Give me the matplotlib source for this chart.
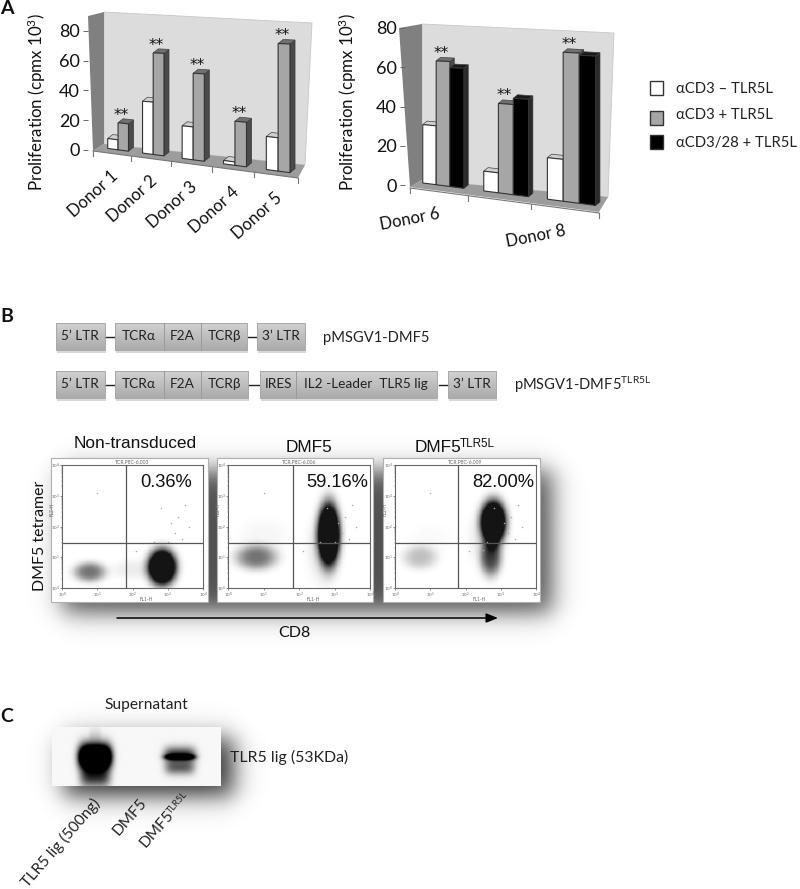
import numpy as np
import matplotlib
matplotlib.use("Agg")
import matplotlib.pyplot as plt
from matplotlib.transforms import Transform
from matplotlib.patches import Rectangle, Polygon
from matplotlib.ticker import LogLocator, NullFormatter

plt.rcParams['font.family'] = ['Lato', 'Noto Sans', 'DejaVu Sans']
plt.rcParams['mathtext.default'] = 'regular'

# ---------- data ----------
donors_a = ["Donor 1", "Donor 2", "Donor 3", "Donor 4", "Donor 5"]
a_minus = [6.5, 33, 20, 2, 19]
a_plus = [17.6, 64, 52.7, 26, 72.7]
a_stars = [True, True, True, True, True]

donors_b = ["Donor 6", "", "Donor 8"]
b_minus = [29.5, 9.6, 19.4]
b_plus = [62, 43, 69]
b_cd28 = [59, 46, 68]
b_stars = [True, True, True]

y_ticks = [0, 20, 40, 60, 80]
legend_labels = ["αCD3 – TLR5L", "αCD3 + TLR5L", "αCD3/28 + TLR5L"]
bar_colors = ["#ffffff", "#a6a6a6", "#000000"]
side_colors = ["#8a8a8a", "#4a4a4a", "#2a2a2a"]
top_colors = ["#cfcfcf", "#707070", "#1a1a1a"]

construct_1 = ["5’ LTR", "TCRα", "F2A", "TCRβ", "3’ LTR"]
construct_2 = ["5’ LTR", "TCRα", "F2A", "TCRβ", "IRES", "IL2 -Leader  TLR5 lig", "3’ LTR"]

flow_titles = ["Non-transduced", "DMF5", "DMF5"]
flow_percent = ["0.36%", "59.16%", "82.00%"]
flow_ids = ["TCR.P8C-6.003", "TCR.P8C-6.006", "TCR.P8C-6.009"]
# cell populations per panel: log10 x, log10 y, sd x, sd y, darkness
flow_pops = [
    [(0.79, 0.52, 0.45, 0.32, 0.62), (2.84, 0.68, 0.40, 0.58, 1.9), (2.0, 0.6, 0.55, 0.32, 0.10)],
    [(0.80, 1.00, 0.58, 0.40, 0.62), (2.84, 1.75, 0.31, 1.02, 1.9), (1.0, 1.7, 0.7, 0.55, 0.05),
     (2.7, 1.3, 0.45, 1.1, 0.16)],
    [(0.71, 1.00, 0.48, 0.38, 0.30), (2.79, 2.15, 0.36, 0.70, 1.9), (2.72, 1.00, 0.30, 0.62, 0.75),
     (2.6, 1.6, 0.5, 0.95, 0.12), (1.0, 1.6, 0.6, 0.5, 0.03)],
]
flow_gate_x = [1.82, 1.82, 1.79]
flow_gate_y = [1.45, 1.45, 1.45]
stray_x = [1.0, 2.8, 3.3, 3.6, 3.2, 2.6, 3.5, 3.0, 2.5, 2.1, 3.1, 3.4]
stray_y = [3.1, 2.6, 2.3, 2.0, 1.8, 1.5, 2.7, 1.5, 1.25, 1.2, 2.1, 1.6]

blot_lanes = ["TLR5 lig (500ng)", "DMF5", "DMF5"]
# blot bands: x px, y px, half width, half height, darkness
blot_bands = [(95, 757, 16, 12, 2.6), (95, 778, 15, 10, 0.7), (95, 735, 6, 8, 0.10),
              (180, 755, 16, 8, 0.8), (180, 757, 15, 2.5, 1.2), (180, 768, 15, 7, 0.55)]

W, H = 800, 889
fig = plt.figure(figsize=(W / 100, H / 100), dpi=100, facecolor='white')
canvas = fig.add_axes([0, 0, 1, 1])
canvas.set_autoscale_on(False)
canvas.set_xlim(0, W)
canvas.set_ylim(H, 0)
canvas.axis('off')


def axes_px(x0, y0, x1, y1, **kw):
    return fig.add_axes([x0 / W, 1 - y1 / H, (x1 - x0) / W, (y1 - y0) / H], **kw)


class Persp(Transform):
    """Slot position / value to canvas pixels, with a perspective floor."""
    input_dims = 2
    output_dims = 2
    is_separable = False
    has_inverse = False

    def __init__(self, x0, b, c, y_at, y_slope, x_ref, s0, s1):
        super().__init__()
        self.p = (x0, b, c, y_at, y_slope, x_ref, s0, s1)

    def transform_non_affine(self, values):
        x0, b, c, y_at, y_slope, x_ref, s0, s1 = self.p
        v = np.asarray(values, dtype=float)
        u, val = v[:, 0], v[:, 1]
        px = x0 + b * u + c * u * u
        py = y_at + y_slope * (px - x_ref) - val * (s0 + s1 * u)
        return np.column_stack([px, py])


def chart(persp, series, names, centers, width, depth, wall_l, wall_b, floor,
          tick_us, front, y_rect, ylabel_xy, xl_off, xl_rot, xl_fs, stars, star_s, star_dy):
    canvas.add_patch(Polygon(wall_b, fc="#dcdcdc", ec="#c8c8c8", lw=0.6, zorder=1))
    canvas.add_patch(Polygon(wall_l, fc="#808080", ec="none", zorder=1))
    canvas.add_patch(Polygon(floor, fc="#9c9c9c", ec="none", zorder=1.1))
    t = persp + canvas.transData
    n = len(series)
    dx, dy = depth
    for g, c in enumerate(centers):
        for k in range(n):
            left = c + (k - n / 2) * width
            val = series[k][g]
            (x0, yb0), (x1, yt1), (_, yb1), (_, yt0) = persp.transform(
                [[left, 0], [left + width, val], [left + width, 0], [left, val]])
            canvas.add_patch(Polygon([(x1, yt1), (x1 + dx, yt1 + dy), (x1 + dx, yb1 + dy), (x1, yb1)],
                                     fc=side_colors[k], ec="#333333", lw=0.5, zorder=2 + k * 0.1))
            canvas.add_patch(Polygon([(x0, yt0), (x1, yt1), (x1 + dx, yt1 + dy), (x0 + dx, yt0 + dy)],
                                     fc=top_colors[k], ec="#444444", lw=0.5, zorder=2 + k * 0.1))
            canvas.bar(left + width / 2, val, width, color=bar_colors[k], edgecolor="#333333",
                       linewidth=0.8, transform=t, zorder=2.05 + k * 0.1)
        if stars[g]:
            left = c + (1 - n / 2) * width
            sx, sy = persp.transform([[left + width / 2, series[1][g]]])[0]
            canvas.text(sx - 2, sy + star_dy, "**", fontsize=star_s, ha='center', va='center', zorder=6,
                        family='DejaVu Sans', color="#111111")
    # x axis
    canvas.plot([front[0][0], front[1][0]], [front[0][1], front[1][1]], color="#777777", lw=0.8, zorder=1.2)
    for u in tick_us:
        px = persp.transform([[u, 0]])[0][0]
        f = (px - front[0][0]) / (front[1][0] - front[0][0])
        py = front[0][1] + f * (front[1][1] - front[0][1])
        canvas.plot([px, px], [py, py + 5], color="#777777", lw=0.8, zorder=1.2)
    for g, nm in enumerate(names):
        if nm:
            px, py = persp.transform([[g + 0.5, 0]])[0]
            canvas.text(px + xl_off[0], py + xl_off[1], nm, rotation=xl_rot, rotation_mode='anchor',
                        ha='right', va='center', fontsize=xl_fs, color="#111111", zorder=6)
    # y axis
    ya = axes_px(*y_rect, facecolor='none')
    ya.set_ylim(0, 80)
    ya.set_xticks([])
    ya.set_yticks(y_ticks)
    ya.tick_params(axis='y', length=3.6, width=0.7, color="#666666", labelsize=13, pad=2.5, labelcolor="#111111")
    for s in ya.spines.values():
        s.set_visible(False)
    canvas.text(*ylabel_xy, "Proliferation (cpmx 10$^{3}$)", rotation=90, ha='center', va='center',
                fontsize=12.2, color="#111111", zorder=6)


# ---------- panel A left ----------
p1 = Persp(93, 37.5, 0.7, 149, 0.133, 112, 1.5, 0.056)
chart(p1, [a_minus, a_plus], donors_a, [0.66, 1.56, 2.55, 3.55, 4.55], 0.27, (5, -4),
      [(88, 16), (104, 12), (104, 144), (93, 151)],
      [(104, 12), (312, 23), (305, 165), (104, 144)],
      [(93, 151), (104, 144), (305, 165), (298, 178)],
      [0, 1, 2, 3, 4, 5], [(93, 151), (298, 178)],
      (88, 30.7, 96, 150), (37, 102), (4, 25), 42, 12, a_stars, 11, -8)

# ---------- panel A right ----------
p2 = Persp(410, 55.5, 2.5, 183, 0.13, 423, 1.96, 0.08)
chart(p2, [b_minus, b_plus, b_cd28], donors_b, [0.58, 1.61, 2.6], 0.235, (4.3, -3.5),
      [(399, 28), (422, 24), (422, 180), (410, 187)],
      [(422, 24), (614, 33), (608, 197), (422, 180)],
      [(410, 187), (422, 180), (608, 197), (599, 212)],
      [0, 1, 2, 3], [(410, 188), (599, 213)],
      (405, 28, 415, 185), (348, 102), (1, 29), 11, 12, b_stars, 11, -8)

# legend
for lab, col, yc, ys in zip(legend_labels, bar_colors, [89, 115, 143], [88, 117.5, 142]):
    canvas.add_patch(Rectangle((650, ys - 7), 12.5, 14, fc=col, ec="#333333", lw=1, zorder=3))
    canvas.text(676.5, yc, lab, fontsize=10.7, va='center', ha='left', color="#222222", zorder=3)

# panel letters
for s, x, y in [("A", 7, 8), ("B", 7, 316), ("C", 7, 717)]:
    canvas.text(x, y, s, fontsize=14, fontweight='bold', ha='center', va='center', color="#111111", zorder=7)


# ---------- panel B constructs ----------
def block(x0, y0, x1, y1):
    g = np.linspace(0, 1, 30).reshape(-1, 1)
    v = 0.82 - 0.15 * g
    canvas.add_patch(Rectangle((x0 + 1, y1), x1 - x0, 2.5, fc="#d8d8d8", ec="none", zorder=1.5))
    canvas.imshow(v, cmap='gray', vmin=0, vmax=1, extent=(x0, x1, y1, y0), aspect='auto', zorder=2)
    canvas.add_patch(Rectangle((x0, y0), x1 - x0, y1 - y0, fc='none', ec="#a8a8a8", lw=0.7, zorder=2.1))


def construct(y0, y1, boxes, dashes, labels):
    for b in boxes:
        block(b[0], y0, b[-1], y1)
        for d in b[1:-1]:
            canvas.plot([d, d], [y0, y1], color="#9a9a9a", lw=0.7, zorder=2.2)
    ym = (y0 + y1) / 2
    for a, b in dashes:
        canvas.plot([a, b], [ym, ym], color="#222222", lw=1, zorder=2)
    for (xc, s) in labels:
        canvas.text(xc, ym - 1, s, fontsize=9.8, ha='center', va='center', color="#222222", zorder=3)


construct(323, 350, [(56, 105), (115, 164, 201, 247), (257, 305)],
          [(105, 114), (248, 256)],
          list(zip([80, 139, 182, 224, 281], construct_1)))
canvas.text(323, 338, "pMSGV1-DMF5", fontsize=10.6, va='center', color="#222222")
construct(371, 398, [(56, 105), (115, 164, 201, 248), (260, 296, 437), (448, 496)],
          [(105, 114), (249, 259), (439, 448)],
          list(zip([80, 139, 182, 224, 278, 366, 472], construct_2)))
canvas.text(514, 385, "pMSGV1-DMF5$^{TLR5L}$", fontsize=10.6, va='center', color="#222222")


# ---------- shadows ----------
def shadow(x0, y0, x1, y1, blur, amp):
    xs = np.linspace(x0 - 4 * blur, x1 + 4 * blur, 300)
    ys = np.linspace(y0 - 4 * blur, y1 + 4 * blur, 200)
    X, Y = np.meshgrid(xs, ys)
    S = lambda d: 1 / (1 + np.exp(-d / (blur * 0.45)))
    A = amp * S(X - x0) * S(x1 - X) * S(Y - y0) * S(y1 - Y)
    rgba = np.zeros(A.shape + (4,))
    rgba[..., 3] = A
    canvas.imshow(rgba, extent=(xs[0], xs[-1], ys[-1], ys[0]), aspect='auto', zorder=0.5)


shadow(62, 470, 553, 613, 16, 0.68)
shadow(64, 738, 234, 796, 16, 0.8)

# ---------- flow panels ----------
outer = [(51, 208), (217, 373), (383, 540)]
inner = [(62, 203), (228, 370), (395, 536)]
gx = np.linspace(0, 4, 260)
gy = np.linspace(0, 4, 230)
GX, GY = np.meshgrid(gx, gy)
for i in range(3):
    canvas.add_patch(Rectangle((outer[i][0], 458), outer[i][1] - outer[i][0], 144,
                               fc="white", ec="#b0b0b0", lw=0.8, zorder=1))
    ax = axes_px(inner[i][0], 465, inner[i][1], 588)
    D = np.zeros_like(GX)
    for (mx, my, sx, sy, a) in flow_pops[i]:
        r = np.sqrt(((GX - mx) / sx) ** 2 + ((GY - my) / sy) ** 2)
        D += a * np.exp(-r ** 3)
    ax.pcolormesh(10 ** gx, 10 ** gy, np.clip(D, 0, 1) ** 1.1 * 0.92, cmap='gray_r', vmin=0, vmax=1,
                  shading='auto', rasterized=True)
    ax.scatter(10 ** np.array(stray_x), 10 ** np.array(stray_y), s=1.2, color="#aaaaaa", lw=0)
    ax.set_xscale('log')
    ax.set_yscale('log')
    ax.set_xlim(1, 1e4)
    ax.set_ylim(1, 1e4)
    ax.axvline(10 ** flow_gate_x[i], color="#555555", lw=0.9)
    ax.axhline(10 ** flow_gate_y[i], color="#555555", lw=0.9)
    for s in ax.spines.values():
        s.set_color("#666666")
        s.set_linewidth(0.8)
    for a_ in (ax.xaxis, ax.yaxis):
        a_.set_major_locator(LogLocator(base=10, numticks=6))
        a_.set_minor_locator(LogLocator(base=10, subs=np.arange(2, 10) * 1.0, numticks=6))
        a_.set_minor_formatter(NullFormatter())
    ax.tick_params(which='major', length=1.6, width=0.5, color="#666666", labelsize=3.2, pad=0.3, labelcolor="#666666")
    ax.tick_params(which='minor', length=1, width=0.3, color="#666666")
    ax.set_title(flow_ids[i], fontsize=3.6, pad=1, color="#666666")
    ax.set_xlabel("FL1-H", fontsize=3.4, color="#666666")
    ax.xaxis.set_label_coords(0.6, -0.07)
    ax.set_ylabel("FL2-H", fontsize=3.4, color="#666666")
    ax.yaxis.set_label_coords(-0.052, 0.64)
    ax.text([0.74, 0.77, 0.766][i], 0.86, flow_percent[i], transform=ax.transAxes, fontsize=13.2,
            family='Liberation Sans', ha='center', va='center', color="#111111")

for x, y, s in zip([135, 309, 438], [444, 447, 447], flow_titles):
    canvas.text(x, y, s, fontsize=12.4, family='Liberation Sans', ha='center',
                va='center', color="#111111", zorder=5)
canvas.text(460, 444, "TLR5L", fontsize=8.4, family='Liberation Sans', ha='left', va='center',
            color="#111111", zorder=5)
canvas.text(40, 536, "DMF5 tetramer", rotation=90, fontsize=11.4, ha='center', va='center',
            color="#111111", zorder=5)
canvas.annotate("", xy=(498, 618), xytext=(117, 618), zorder=5,
                arrowprops=dict(arrowstyle='-|>,head_width=0.28,head_length=0.7', color='black', lw=1.1,
                                shrinkA=0, shrinkB=0))
canvas.text(294, 633, "CD8", fontsize=11.5, ha='center', va='center', color="#111111", zorder=5)

# ---------- panel C ----------
bx = np.linspace(52, 221, 260)
by = np.linspace(727, 786, 120)
BX, BY = np.meshgrid(bx, by)
B = np.full_like(BX, 0.03)
for (mx, my, hw, hh, a) in blot_bands:
    B += a * np.exp(-(((BX - mx) / hw) ** 4) - (((BY - my) / hh) ** 2))
canvas.imshow(np.clip(B, 0, 1), cmap='gray_r', vmin=0, vmax=1, extent=(52, 221, 786, 727),
              aspect='auto', zorder=2)
canvas.text(146, 705, "Supernatant", fontsize=11.2, ha='center', va='center', color="#222222", zorder=5)
canvas.text(230, 757, "TLR5 lig (53KDa)", fontsize=11.4, ha='left', va='center', color="#222222", zorder=5)
for s, x, y, in zip(blot_lanes, [98, 144, 171], [801, 800, 812]):
    canvas.text(x, y, s, rotation=49, rotation_mode='anchor', ha='right', va='center', fontsize=11.2,
                color="#222222", zorder=5)
canvas.text(169, 812, "TLR5L", rotation=49, rotation_mode='anchor', ha='left', va='center', fontsize=6.6,
            color="#222222", zorder=5)

canvas.set_xlim(0, W)
canvas.set_ylim(H, 0)
fig.savefig("out.png", dpi=100, facecolor='white')
